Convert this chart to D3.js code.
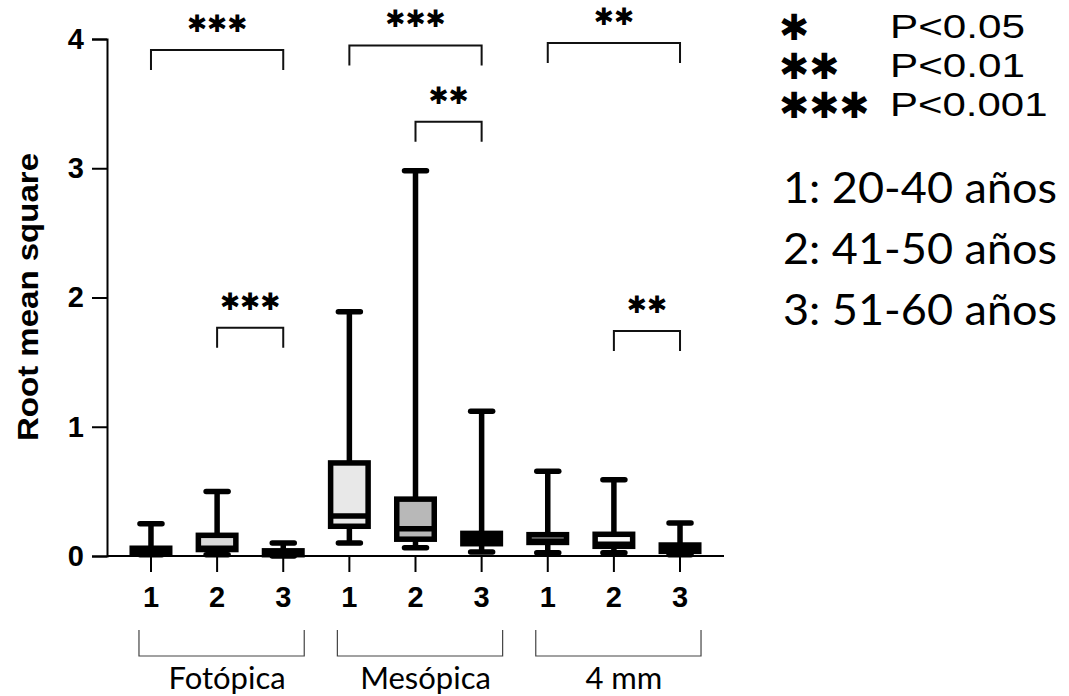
<!DOCTYPE html>
<html>
<head>
<meta charset="utf-8">
<script src="https://cdnjs.cloudflare.com/ajax/libs/d3/7.8.5/d3.min.js"></script>
<style>
  body { margin: 0; background: #fff; }
  svg { display: block; }
</style>
</head>
<body>
<div id="chart"></div>
<script>
// groups and age bands
var groups = ["Fotópica", "Mesópica", "4 mm"]
var ageLabels = ["1", "2", "3"]

// box stats, one entry per box (group x age band)
var mins    = [0.01, 0.01, 0.00, 0.10, 0.064, 0.03, 0.026, 0.025, 0.01]
var q1s     = [0.02, 0.05, 0.01, 0.23, 0.13, 0.095, 0.105, 0.075, 0.036]
var medians = [0.04, 0.06, 0.02, 0.31, 0.21, 0.135, 0.115, 0.09, 0.05]
var q3s     = [0.06, 0.16, 0.04, 0.72, 0.44, 0.175, 0.165, 0.168, 0.085]
var maxs    = [0.25, 0.50, 0.10, 1.89, 2.98, 1.12, 0.655, 0.59, 0.255]
var fills   = ["#e8e8e8", "#d9d9d9", "#555", "#e8e8e8", "#b8b8b8", "#999", "#999", "#fafafa", "#333"]

// significance brackets (box indices, level in data units)
var sigFrom  = [0, 1, 3, 4, 6, 7]
var sigTo    = [2, 2, 5, 5, 8, 8]
var sigLevel = [3.915, 1.766, 3.95, 3.36, 3.97, 1.74]
var sigText  = ["***", "***", "***", "**", "**", "**"]

var yTicks = [0, 1, 2, 3, 4]

var legendStars = ["*", "**", "***"]
var legendP = ["P<0.05", "P<0.01", "P<0.001"]
var legendAges = ["1: 20-40 años", "2: 41-50 años", "3: 51-60 años"]

var width = 1069, height = 696
var svg = d3.select("#chart").append("svg")
  .attr("width", width)
  .attr("height", height)

var keys = []
groups.forEach(function(g, gi) {
  ageLabels.forEach(function(a, ai) { keys.push(gi * 3 + ai) })
})
var boxes = keys.map(function(k) {
  return { k: k, min: mins[k], q1: q1s[k], med: medians[k], q3: q3s[k], max: maxs[k], fill: fills[k] }
})

var x = d3.scaleBand().domain(keys).range([107, 724]).paddingInner(0.38).paddingOuter(0.355)
var y = d3.scaleLinear().domain([0, 4]).range([556, 39])
var cx = function(k) { return x(k) + x.bandwidth() / 2 }

var sw = 5.5
var boxW = 37.5
var capW = 22

// axes
var yAxis = svg.append("g")
  .attr("transform", "translate(107,0)")
  .call(d3.axisLeft(y).tickValues(yTicks).tickSize(15).tickPadding(8).tickFormat(d3.format("d")))
yAxis.attr("font-size", null).attr("font-family", null)
yAxis.select(".domain").attr("stroke-width", 2)
yAxis.selectAll(".tick line").attr("stroke-width", 2)
yAxis.selectAll("text")
  .style("font-family", "Liberation Sans, Arial, sans-serif")
  .style("font-weight", "bold")
  .style("font-size", "29px")
  .attr("fill", "#000")

var xAxis = svg.append("g")
  .attr("transform", "translate(0,556)")
  .call(d3.axisBottom(x).tickSize(16).tickPadding(14).tickSizeOuter(0)
    .tickFormat(function(k) { return ageLabels[k % 3] }))
xAxis.attr("font-size", null).attr("font-family", null)
xAxis.select(".domain").attr("stroke-width", 2).attr("d", "M107,0H724")
xAxis.selectAll(".tick line").attr("stroke-width", 2)
xAxis.selectAll("text")
  .style("font-family", "Liberation Sans, Arial, sans-serif")
  .style("font-weight", "bold")
  .style("font-size", "29px")
  .attr("fill", "#000")

// y title
svg.append("text")
  .attr("transform", "translate(38,297) rotate(-90)")
  .attr("text-anchor", "middle")
  .attr("font-family", "Liberation Sans, Arial, sans-serif")
  .attr("font-weight", "bold")
  .attr("font-size", 29)
  .attr("textLength", 288)
  .attr("lengthAdjust", "spacingAndGlyphs")
  .text("Root mean square")

// boxes
var bg = svg.selectAll(".box").data(boxes).enter().append("g").attr("class", "box")
bg.append("line")
  .attr("x1", function(d) { return cx(d.k) }).attr("x2", function(d) { return cx(d.k) })
  .attr("y1", function(d) { return y(d.max) }).attr("y2", function(d) { return y(d.min) })
  .attr("stroke", "#000").attr("stroke-width", sw)
bg.append("rect")
  .attr("x", function(d) { return cx(d.k) - boxW / 2 })
  .attr("width", boxW)
  .attr("y", function(d) { return y(d.q3) })
  .attr("height", function(d) { return y(d.q1) - y(d.q3) })
  .attr("fill", function(d) { return d.fill })
  .attr("stroke", "#000").attr("stroke-width", sw)
bg.append("line")
  .attr("x1", function(d) { return cx(d.k) - boxW / 2 }).attr("x2", function(d) { return cx(d.k) + boxW / 2 })
  .attr("y1", function(d) { return y(d.med) }).attr("y2", function(d) { return y(d.med) })
  .attr("stroke", "#000").attr("stroke-width", sw)
bg.selectAll(".cap").data(function(d) { return [[d.k, d.max], [d.k, d.min]] }).enter().append("line")
  .attr("x1", function(d) { return cx(d[0]) - capW / 2 }).attr("x2", function(d) { return cx(d[0]) + capW / 2 })
  .attr("y1", function(d) { return y(d[1]) }).attr("y2", function(d) { return y(d[1]) })
  .attr("stroke", "#000").attr("stroke-width", sw).attr("stroke-linecap", "round")

// significance brackets
sigFrom.forEach(function(f, i) {
  var x1 = cx(f), x2 = cx(sigTo[i]), yy = y(sigLevel[i])
  svg.append("path")
    .attr("d", "M" + x1 + "," + (yy + 20) + "V" + yy + "H" + x2 + "V" + (yy + 20))
    .attr("fill", "none").attr("stroke", "#111").attr("stroke-width", 2)
  svg.append("text")
    .attr("x", (x1 + x2) / 2)
    .attr("y", yy - 18)
    .attr("text-anchor", "middle")
    .attr("font-family", "DejaVu Sans, sans-serif")
    .attr("font-size", 24)
    .text(sigText[i].replace(/\*/g, "\u2731"))
})

// group brackets under the axis
groups.forEach(function(g, gi) {
  var x1 = cx(gi * 3) - 12, x2 = cx(gi * 3 + 2) + 21
  svg.append("path")
    .attr("d", "M" + x1 + ",630V656H" + x2 + "V630")
    .attr("fill", "none").attr("stroke", "#444").attr("stroke-width", 1.2)
  svg.append("text")
    .attr("x", cx(gi * 3 + 1) + 10)
    .attr("y", 689)
    .attr("text-anchor", "middle")
    .attr("font-family", "Lato, Open Sans, sans-serif")
    .attr("font-size", 31)
    .text(g)
})

// legend
legendStars.forEach(function(s, i) {
  svg.append("text")
    .attr("x", 779).attr("y", 40 + i * 39)
    .attr("font-family", "DejaVu Sans, sans-serif")
    .attr("font-size", 36)
    .text(s.replace(/\*/g, "\u2731"))
  svg.append("text")
    .attr("x", 890).attr("y", 38 + i * 39)
    .attr("font-family", "Liberation Sans, Arial, sans-serif")
    .attr("font-size", 33)
    .attr("textLength", legendP[i].length * 22.5)
    .attr("lengthAdjust", "spacingAndGlyphs")
    .text(legendP[i])
})
legendAges.forEach(function(t, i) {
  svg.append("text")
    .attr("x", 783).attr("y", 203 + i * 61)
    .attr("font-family", "Lato, Open Sans, sans-serif")
    .attr("font-size", 42)
    .attr("textLength", 274)
    .attr("lengthAdjust", "spacingAndGlyphs")
    .text(t)
})
</script>
</body>
</html>
